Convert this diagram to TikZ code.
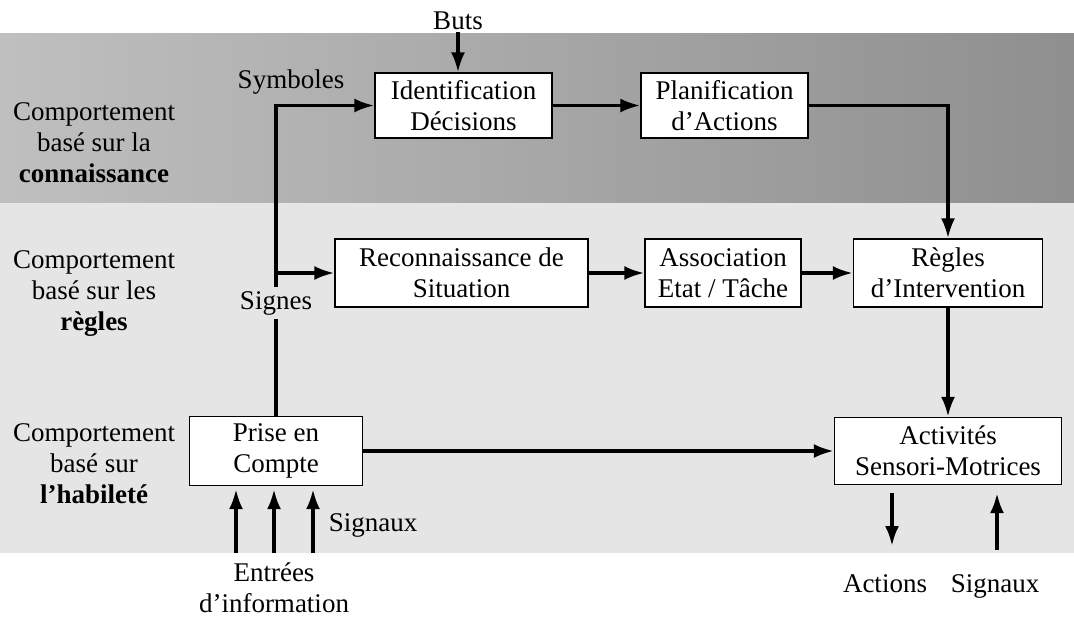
\documentclass[tikz,border=0pt]{standalone}
\usepackage{fontspec}
\setmainfont{Liberation Serif}
\usetikzlibrary{arrows.meta}

\definecolor{bandleft}{gray}{0.75}
\definecolor{bandright}{gray}{0.56}
\definecolor{bandlow}{gray}{0.90}

\tikzset{
  txt/.style={font=\fontsize{27pt}{31pt}\selectfont, align=center, inner sep=0pt},
  stepbox/.style={txt, draw, fill=white, line width=1.3pt},
  conn/.style={line width=3.4pt, -{Latex[length=20pt,width=14pt]}},
  plain/.style={line width=3.4pt},
}

\begin{document}
\begin{tikzpicture}[x=1pt,y=-1pt]
\useasboundingbox (0,0) rectangle (1074,619);

% level bands
\shade[left color=bandleft, right color=bandright] (0,33) rectangle (1074,203);
\fill[bandlow] (0,203) rectangle (1074,553);

% level labels
\node[txt] (lvlk) at (94,143) {Comportement\\basé sur la\\\textbf{connaissance}};
\node[txt] (lvlr) at (94,294) {Comportement\\basé sur les\\\textbf{règles}};
\node[txt] (lvls) at (94,464) {Comportement\\basé sur\\\textbf{l’habileté}};

% processing boxes
\node[stepbox, minimum width=177pt, minimum height=65pt] (ident) at (463.5,105.5) {Identification\\Décisions};
\node[stepbox, minimum width=167pt, minimum height=65pt] (planif) at (724.5,105.5) {Planification\\d’Actions};
\node[stepbox, minimum width=253pt, minimum height=68pt] (recon) at (461.5,273) {Reconnaissance de\\Situation};
\node[stepbox, minimum width=156pt, minimum height=68pt] (assoc) at (723,273) {Association\\Etat / Tâche};
\node[stepbox, minimum width=189pt, minimum height=68pt] (regles) at (948,273) {Règles\\d’Intervention};
\node[stepbox, minimum width=173pt, minimum height=69pt] (prise) at (276,451) {Prise en\\Compte};
\node[stepbox, minimum width=227pt, minimum height=67pt] (activ) at (948,451) {Activités\\Sensori-Motrices};

% free labels
\node[txt] (buts) at (458,21) {Buts};
\node[txt] (symb) at (291,82) {Symboles};
\node[txt, inner sep=4pt] (signes) at (276,303) {Signes};
\node[txt] (sigin) at (373,525) {Signaux};
\node[txt] (entrees) at (274,588) {Entrées\\d’information};
\node[txt, anchor=base] (actions) at (885,592) {Actions};
\node[txt, anchor=base] (sigout) at (995,592) {Signaux};

% input and output arrow ends
\coordinate (in1) at (236,553);
\coordinate (in2) at (274,553);
\coordinate (in3) at (313,553);
\coordinate (out1) at (892,546);
\coordinate (out2) at (997,550);

% knowledge level
\draw[conn, shorten <=2pt] (buts.south) -- (buts.south |- ident.north);
\draw[conn] (ident.east) -- (planif.west);
\draw[conn] (planif.east) -| (regles.north);

% rule level
\draw[plain] (prise.north) -- (signes.south);
\draw[conn] (signes.north) |- (ident.west);
\draw[conn] (signes.north |- recon.west) -- (recon.west);
\draw[conn] (recon.east) -- (assoc.west);
\draw[conn] (assoc.east) -- (regles.west);
\draw[conn] (regles.south) -- (regles.south |- activ.north);

% skill level
\draw[conn] (prise.east) -- (activ.west);
\draw[conn, shorten >=3pt] (in1) -- (in1 |- prise.south);
\draw[conn, shorten >=3pt] (in2) -- (in2 |- prise.south);
\draw[conn, shorten >=3pt] (in3) -- (in3 |- prise.south);
\draw[conn, shorten <=8pt] (out1 |- activ.south) -- (out1);
\draw[conn, shorten >=8pt] (out2) -- (out2 |- activ.south);
\end{tikzpicture}
\end{document}
